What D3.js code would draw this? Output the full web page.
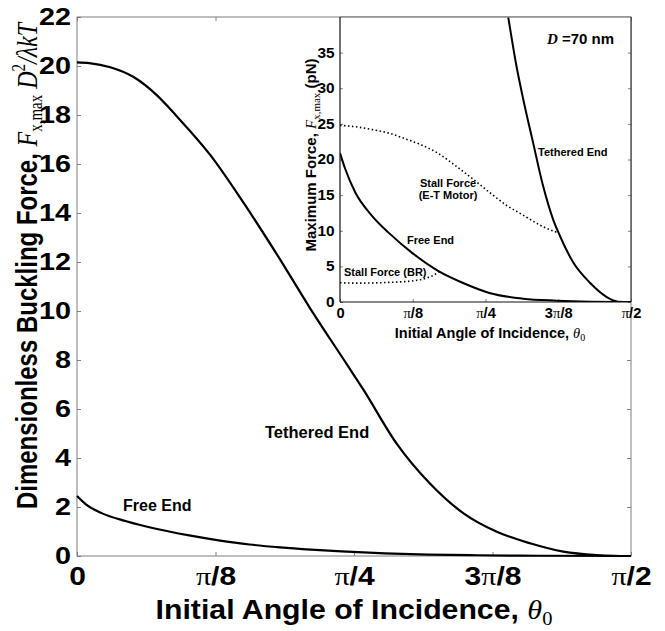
<!DOCTYPE html>
<html><head><meta charset="utf-8">
<script src="https://cdn.jsdelivr.net/npm/d3@7"></script>
<style>body{margin:0;background:#fff} svg{display:block}</style>
</head><body>
<svg id="c" width="665" height="631"></svg>
<script>
// ---------- DATA ----------
// angles in degrees (0 .. 90 = pi/2)
const angleTicks = [0, 22.5, 45, 67.5, 90];
const angleTickLabels = ["0", "π/8", "π/4", "3π/8", "π/2"];
const mainYTicks = [0, 2, 4, 6, 8, 10, 12, 14, 16, 18, 20, 22];
const insetYTicks = [0, 5, 10, 15, 20, 25, 30, 35];

// main panel: dimensionless buckling force
const tetheredAngle = [0, 2, 5.4, 9.2, 13.0, 16.2, 21.7, 27.1, 32.5, 37.9, 43.9, 46.5, 51.9, 57.3, 62.8, 68.2, 73.6, 79.0, 84.4, 87, 90];
const tetheredMain  = [20.15, 20.12, 19.95, 19.55, 18.8, 17.95, 16.35, 14.4, 12.3, 10.1, 7.8, 6.8, 4.6, 2.97, 1.74, 0.99, 0.52, 0.18, 0.04, 0.01, 0];
const freeAngle = [0, 1.5, 4, 8, 13, 18, 23, 28, 33, 38, 43, 50, 57, 65, 75, 90];
const freeMain  = [2.45, 2.1, 1.75, 1.42, 1.1, 0.85, 0.64, 0.47, 0.35, 0.26, 0.19, 0.11, 0.06, 0.03, 0.01, 0];

// inset: maximum force in pN (D = 70 nm)
const insetFreeAngle = [0, 1.6, 4.7, 9.9, 15.1, 22.3, 30.6, 37.9, 46.2, 56.6, 67, 77.3, 90];
const insetFree      = [20.9, 18.7, 15.4, 12.1, 9.7, 6.9, 4.3, 2.7, 1.27, 0.47, 0.19, 0.05, 0];
const insetTethAngle = [50.5, 51.9, 54.5, 56.6, 59.7, 62.8, 65.9, 68, 72.2, 77.3, 82.5, 86, 90];
const insetTeth      = [44, 40.3, 33.3, 28.6, 22.4, 16.3, 11.6, 9.3, 5.5, 2.7, 0.7, 0.05, 0];
const stallETAngle = [0, 4.7, 9.9, 15.1, 20.2, 25.4, 30.6, 35.8, 41.0, 46.2, 51.4, 56.6, 61.8, 67.5];
const stallET      = [24.8, 24.6, 24.2, 23.7, 22.9, 22.0, 20.8, 19.1, 17.3, 15.4, 13.6, 12.2, 10.8, 9.7];
const stallBRAngle = [0, 5, 15, 23, 27, 29.5, 30.6];
const stallBR      = [2.7, 2.65, 2.75, 3.0, 3.4, 3.9, 4.3];

// ---------- DRAW ----------
const SANS = '"Liberation Sans", Arial, Helvetica, sans-serif';
const SERIF = '"Liberation Serif", "Times New Roman", serif';
const svg = d3.select('#c');
const zip = (a, b) => a.map((v, i) => [v, b[i]]);
const STRETCH = 1.2; // reference figure glyphs are wider than tall

function piText(sel, label) {
  sel.text(null);
  label.split(/(π)/).filter(s => s).forEach(p => {
    sel.append('tspan')
      .attr('font-family', p === 'π' ? SERIF : SANS)
      .attr('font-weight', p === 'π' ? 'normal' : 'bold')
      .text(p);
  });
}

// ----- main panel -----
const M = {l: 77, r: 631, t: 17, b: 556};
const x = d3.scaleLinear().domain([0, 90]).range([M.l, M.r]);
const y = d3.scaleLinear().domain([0, 22]).range([M.b, M.t]);
const TICKC = '#7f7f7f';

function styleAxis(g, fs, sx) {
  g.select('.domain').remove();
  g.selectAll('.tick line').attr('stroke', TICKC);
  g.selectAll('.tick text').attr('fill', '#000').attr('font-family', SANS)
    .attr('font-weight', 'bold').attr('font-size', fs);
  if (sx) g.selectAll('.tick text').attr('transform', `scale(${sx},1)`);
  g.attr('font-family', null).attr('font-size', null);
}

const gm = svg.append('g');
gm.append('g').attr('transform', `translate(${M.l},0)`)
  .call(d3.axisLeft(y).tickValues(mainYTicks).tickSizeInner(-4).tickSizeOuter(0).tickPadding(5).tickFormat(d3.format('d')))
  .call(g => styleAxis(g, 24, STRETCH));
gm.append('g').attr('transform', `translate(${M.r},0)`)
  .call(d3.axisRight(y).tickValues(mainYTicks).tickSizeInner(-4).tickSizeOuter(0).tickFormat(''))
  .call(g => styleAxis(g, 24));
gm.append('g').attr('transform', `translate(0,${M.t})`)
  .call(d3.axisTop(x).tickValues(angleTicks).tickSizeInner(-4).tickSizeOuter(0).tickFormat(''))
  .call(g => styleAxis(g, 24));
const gxb = gm.append('g').attr('transform', `translate(0,${M.b})`)
  .call(d3.axisBottom(x).tickValues(angleTicks).tickSizeInner(-4).tickSizeOuter(0).tickPadding(11).tickFormat((d, i) => angleTickLabels[i]))
  .call(g => styleAxis(g, 25, STRETCH));
gxb.selectAll('.tick text').each(function(d, i) { piText(d3.select(this), angleTickLabels[i]); });

gm.append('rect').attr('x', M.l).attr('y', M.t).attr('width', M.r - M.l).attr('height', M.b - M.t)
  .attr('fill', 'none').attr('stroke', TICKC).attr('stroke-width', 1);

const lineM = d3.line().x(d => x(d[0])).y(d => y(d[1])).curve(d3.curveMonotoneX);
gm.append('path').attr('d', lineM(zip(tetheredAngle, tetheredMain)))
  .attr('fill', 'none').attr('stroke', '#000').attr('stroke-width', 2.2);
gm.append('path').attr('d', lineM(zip(freeAngle, freeMain)))
  .attr('fill', 'none').attr('stroke', '#000').attr('stroke-width', 2.2);

gm.append('text').attr('x', 265).attr('y', 438).attr('font-family', SANS).attr('font-weight', 'bold')
  .attr('font-size', 16.5).text('Tethered End');
gm.append('text').attr('x', 123).attr('y', 511).attr('font-family', SANS).attr('font-weight', 'bold')
  .attr('font-size', 16).text('Free End');

// main x label
const xl = gm.append('text').attr('transform', 'translate(354,619) scale(1.08,1)').attr('text-anchor', 'middle')
  .attr('font-family', SANS).attr('font-weight', 'bold').attr('font-size', 28);
xl.append('tspan').text('Initial Angle of Incidence, ');
xl.append('tspan').attr('font-family', SERIF).attr('font-style', 'italic').attr('font-weight', 'normal').text('θ');
xl.append('tspan').attr('font-family', SERIF).attr('font-weight', 'normal').attr('font-size', 19).attr('dy', 6).text('0');

// main y label
const yl = gm.append('text').attr('transform', `translate(37,266) scale(${STRETCH},1) rotate(-90)`).attr('text-anchor', 'middle')
  .attr('font-family', SANS).attr('font-weight', 'bold').attr('font-size', 24);
yl.append('tspan').text('Dimensionless Buckling Force, ');
yl.append('tspan').attr('font-family', SERIF).attr('font-style', 'italic').attr('font-weight', 'normal').text('F');
yl.append('tspan').attr('font-family', SERIF).attr('font-weight', 'normal').attr('font-size', 15).attr('dy', 4).text('x,max');
yl.append('tspan').attr('font-family', SERIF).attr('font-style', 'italic').attr('font-weight', 'normal').attr('dy', -4).text(' D');
yl.append('tspan').attr('font-family', SERIF).attr('font-weight', 'normal').attr('font-size', 15).attr('dy', -10).text('2');
yl.append('tspan').attr('font-family', SERIF).attr('font-style', 'italic').attr('font-weight', 'normal').attr('dy', 10).text('/λkT');

// ----- inset -----
const I = {l: 340, r: 631, t: 17, b: 302};
const xi = d3.scaleLinear().domain([0, 90]).range([I.l, I.r]);
const yi = d3.scaleLinear().domain([0, 40]).range([I.b, I.t]);
const gi = svg.append('g');
gi.append('rect').attr('x', I.l).attr('y', I.t).attr('width', I.r - I.l).attr('height', I.b - I.t).attr('fill', '#fff');

gi.append('g').attr('transform', `translate(${I.l},0)`)
  .call(d3.axisLeft(yi).tickValues(insetYTicks).tickSizeInner(-3).tickSizeOuter(0).tickPadding(5).tickFormat(d3.format('d')))
  .call(g => styleAxis(g, 14, 1.1));
gi.append('g').attr('transform', `translate(${I.r},0)`)
  .call(d3.axisRight(yi).tickValues(insetYTicks).tickSizeInner(-3).tickSizeOuter(0).tickFormat(''))
  .call(g => styleAxis(g, 14));
const gxi = gi.append('g').attr('transform', `translate(0,${I.b})`)
  .call(d3.axisBottom(xi).tickValues(angleTicks).tickSizeInner(-3).tickSizeOuter(0).tickPadding(6).tickFormat((d, i) => angleTickLabels[i]))
  .call(g => styleAxis(g, 14, 1.05));
gxi.selectAll('.tick text').each(function(d, i) { piText(d3.select(this), angleTickLabels[i]); });

gi.append('defs').append('clipPath').attr('id', 'ic').append('rect')
  .attr('x', I.l).attr('y', I.t).attr('width', I.r - I.l).attr('height', I.b - I.t);
const lineI = d3.line().x(d => xi(d[0])).y(d => yi(d[1])).curve(d3.curveMonotoneX);
const gc = gi.append('g').attr('clip-path', 'url(#ic)');
gc.append('path').attr('d', lineI(zip(stallETAngle, stallET)))
  .attr('fill', 'none').attr('stroke', '#000').attr('stroke-width', 1.6).attr('stroke-dasharray', '1.5,2.5');
gc.append('path').attr('d', lineI(zip(stallBRAngle, stallBR)))
  .attr('fill', 'none').attr('stroke', '#000').attr('stroke-width', 1.6).attr('stroke-dasharray', '1.5,2.5');
gc.append('path').attr('d', lineI(zip(insetFreeAngle, insetFree)))
  .attr('fill', 'none').attr('stroke', '#000').attr('stroke-width', 2);
gc.append('path').attr('d', lineI(zip(insetTethAngle, insetTeth)))
  .attr('fill', 'none').attr('stroke', '#000').attr('stroke-width', 2);

// inset frame
gi.append('line').attr('x1', I.l).attr('x2', I.r).attr('y1', I.t).attr('y2', I.t).attr('stroke', '#8a8a8a').attr('stroke-width', 1.5);
gi.append('line').attr('x1', I.r).attr('x2', I.r).attr('y1', I.t).attr('y2', I.b).attr('stroke', '#333').attr('stroke-width', 1.2);
gi.append('line').attr('x1', I.l).attr('x2', I.l).attr('y1', I.t).attr('y2', I.b).attr('stroke', '#111').attr('stroke-width', 1.2);
gi.append('line').attr('x1', I.l).attr('x2', I.r).attr('y1', I.b).attr('y2', I.b).attr('stroke', '#111').attr('stroke-width', 1.2);

// inset annotations
const ann = (tx, ty, t, anchor) => gi.append('text').attr('x', tx).attr('y', ty).attr('text-anchor', anchor || 'start')
  .attr('font-family', SANS).attr('font-weight', 'bold').attr('font-size', 11).text(t);
ann(538, 156, 'Tethered End');
ann(448, 187, 'Stall Force', 'middle');
ann(448, 199, '(E-T Motor)', 'middle');
ann(407, 244, 'Free End');
ann(344, 276, 'Stall Force (BR)');

const dl = gi.append('text').attr('x', 547).attr('y', 44).attr('font-family', SANS).attr('font-weight', 'bold').attr('font-size', 15);
dl.append('tspan').attr('font-family', SERIF).attr('font-style', 'italic').text('D');
dl.append('tspan').text(' =70 nm');

// inset x label
const ixl = gi.append('text').attr('x', 490).attr('y', 338).attr('text-anchor', 'middle')
  .attr('font-family', SANS).attr('font-weight', 'bold').attr('font-size', 14.5);
ixl.append('tspan').text('Initial Angle of Incidence, ');
ixl.append('tspan').attr('font-family', SERIF).attr('font-style', 'italic').attr('font-weight', 'normal').text('θ');
ixl.append('tspan').attr('font-family', SERIF).attr('font-weight', 'normal').attr('font-size', 10).attr('dy', 3).text('0');

// inset y label
const iyl = gi.append('text').attr('transform', 'translate(316,155) rotate(-90)').attr('text-anchor', 'middle')
  .attr('font-family', SANS).attr('font-weight', 'bold').attr('font-size', 15);
iyl.append('tspan').text('Maximum Force,  ');
iyl.append('tspan').attr('font-family', SERIF).attr('font-style', 'italic').attr('font-weight', 'normal').text('F');
iyl.append('tspan').attr('font-family', SERIF).attr('font-weight', 'normal').attr('font-size', 11).attr('dy', 4).text('x,max');
iyl.append('tspan').attr('dy', -4).text(' (pN)');
</script>
</body></html>
